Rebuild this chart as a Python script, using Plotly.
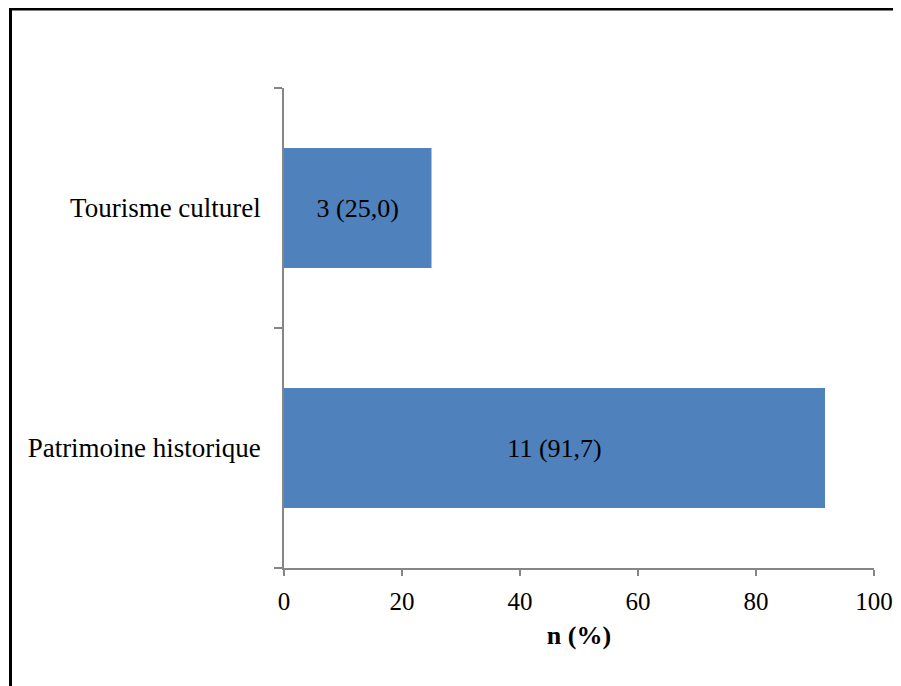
import plotly.graph_objects as go

# data
categories = ["Patrimoine historique", "Tourisme culturel"]
counts = [11, 3]
percents = [91.7, 25.0]
x_ticks = [0, 20, 40, 60, 80, 100]

labels = [f"{n} ({str(p).replace('.', ',')})" for n, p in zip(counts, percents)]

# the page body adds an 8px margin, so the figure is laid out from (8, 8)
OFF = 8
W, H = 901 - OFF, 686 - OFF
X0, X1, Y0, Y1 = 284, 874, 88, 568  # plot area in page pixels
L, T = X0 - OFF, Y0 - OFF
R, B = W - (X1 - OFF), H - (Y1 - OFF)

AXIS = "#868686"
FONT = "Liberation Serif"

fig = go.Figure(go.Bar(
    x=percents,
    y=categories,
    orientation="h",
    marker=dict(color="#4F81BD", line=dict(width=0)),
    text=labels,
    textposition="inside",
    insidetextanchor="middle",
    textfont=dict(family=FONT, size=26, color="black"),
    hoverinfo="skip",
))


# outer frame (only its top and left edges fall inside the picture)
def px_x(v):
    return (v - X0) / (X1 - X0)


def px_y(v):
    return (Y1 - v) / (Y1 - Y0)


fig.add_shape(
    type="path", xref="paper", yref="paper",
    path=f"M {px_x(10.5)} {px_y(720)} L {px_x(10.5)} {px_y(9)} L {px_x(940)} {px_y(9)}",
    line=dict(color="black", width=3),
)

fig.update_layout(
    width=W, height=H,
    margin=dict(l=L, r=R, t=T, b=B, autoexpand=False),
    paper_bgcolor="white",
    plot_bgcolor="white",
    bargap=0.5,
    showlegend=False,
    font=dict(family=FONT, size=25, color="black"),
)

fig.update_xaxes(
    range=[0, 100],
    tickvals=x_ticks,
    automargin=False,
    showgrid=False,
    zeroline=False,
    showline=True, linecolor=AXIS, linewidth=1.5,
    ticks="outside", ticklen=6, tickcolor=AXIS, tickwidth=1.5,
    ticklabelstandoff=4,
    tickfont=dict(family=FONT, size=25, color="black"),
    title=dict(text="<b>n (%)</b>", font=dict(family=FONT, size=26, color="black"), standoff=12),
)

fig.update_yaxes(
    range=[-0.5, 1.5],
    automargin=False,
    showgrid=False,
    zeroline=False,
    showline=True, linecolor=AXIS, linewidth=1.5,
    ticks="outside", ticklen=8, tickcolor=AXIS, tickwidth=1.5,
    tickson="boundaries",
    ticklabelstandoff=16,
    tickfont=dict(family=FONT, size=27, color="black"),
)

fig.write_html("out.html")
